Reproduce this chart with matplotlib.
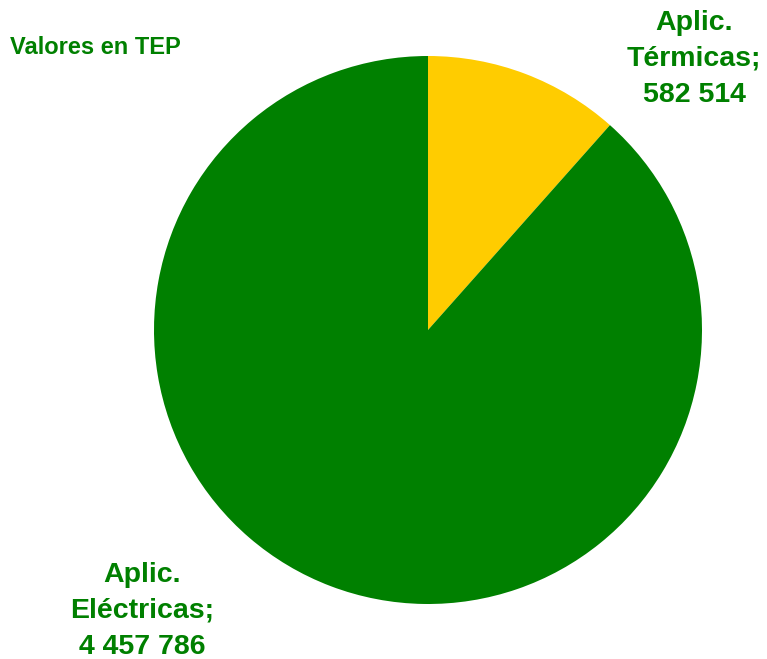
import matplotlib.pyplot as plt

# consumo por tipo de aplicación (TEP)
labels = ["Aplic.\nTérmicas;\n582 514", "Aplic.\nEléctricas;\n4 457 786"]
values = [582514, 4457786]
colors = ["#FFCC00", "#008000"]

W, H = 767, 659
fig = plt.figure(figsize=(W / 100, H / 100), dpi=100)
ax = fig.add_axes([0, 0, 1, 1])

ax.pie(values, colors=colors, startangle=90, counterclock=False,
       center=(428, H - 330), radius=274, frame=True)
ax.set_xlim(0, W)
ax.set_ylim(0, H)
ax.set_aspect("auto")
ax.axis("off")

font = ["Liberation Sans", "DejaVu Sans"]
green = "#008000"

ax.text(694, H - 59, labels[0], ha="center", va="center", fontsize=20.5,
        fontweight="bold", color=green, family=font, linespacing=1.5)
ax.text(142, H - 611, labels[1], ha="center", va="center", fontsize=20.5,
        fontweight="bold", color=green, family=font, linespacing=1.5)
ax.text(10, H - 47, "Valores en TEP", ha="left", va="center", fontsize=17,
        fontweight="bold", color=green, family=font)

fig.savefig("out.png", dpi=100)
